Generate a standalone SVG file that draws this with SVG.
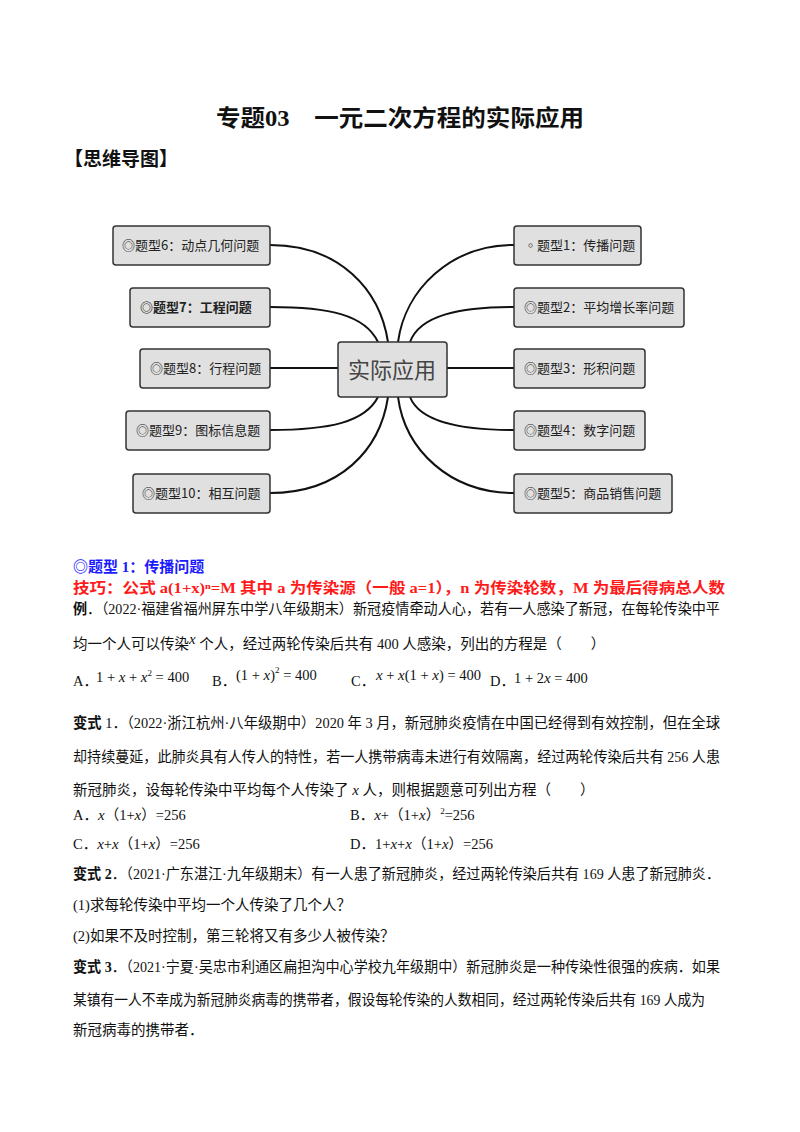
<svg xmlns="http://www.w3.org/2000/svg" width="800" height="1132" viewBox="0 0 800 1132">
<style>
.bx{fill:#e0e0e0;stroke:#333;stroke-width:1.5}
.nt{font-family:"Noto Sans CJK SC",sans-serif;font-size:13px;fill:#222}
.ln{fill:none;stroke:#111;stroke-width:2}
.t{font-family:"Liberation Serif","Noto Sans CJK SC",serif;font-size:14.5px;fill:#111}
.b{font-weight:bold}
.m{font-family:"Liberation Serif",serif;font-style:italic;font-size:15px}
</style>
<rect width="800" height="1132" fill="#fff"/>
<text x="216" y="126" class="t b" style="font-size:23px" textLength="368" lengthAdjust="spacingAndGlyphs">专题03　一元二次方程的实际应用</text>
<text x="64" y="166" class="t b" style="font-size:19px">【思维导图】</text>
<g id="connectors">
<path class="ln" d="M270,245 C340,245 380,290 388,342"/>
<path class="ln" d="M270,307 C330,307 365,315 378,342"/>
<path class="ln" d="M270,368 L338,368"/>
<path class="ln" d="M270,430 C330,430 365,422 378,397"/>
<path class="ln" d="M270,493 C340,493 380,450 388,397"/>
<path class="ln" d="M514,245 C450,245 405,290 398,342"/>
<path class="ln" d="M514,307 C460,307 420,315 410,342"/>
<path class="ln" d="M447,368 L514,368"/>
<path class="ln" d="M514,430 C460,430 420,422 410,397"/>
<path class="ln" d="M514,493 C450,493 405,450 398,397"/>
</g>
<g id="center"><rect class="bx" x="338" y="342" width="109" height="55" rx="3"/><text x="392" y="378" text-anchor="middle" class="nt" style="font-size:22px;fill:#444">实际应用</text></g>
<g id="n6"><rect class="bx" x="113" y="226" width="157" height="39" rx="3"/><text x="122" y="250" class="nt">◎题型6：动点几何问题</text></g>
<g id="n7"><rect class="bx" x="130" y="288" width="140" height="39" rx="3"/><text x="140" y="312" class="nt b">◎题型7：工程问题</text></g>
<g id="n8"><rect class="bx" x="140" y="349" width="130" height="39" rx="3"/><text x="150" y="373" class="nt">◎题型8：行程问题</text></g>
<g id="n9"><rect class="bx" x="126" y="411" width="144" height="39" rx="3"/><text x="136" y="435" class="nt">◎题型9：图标信息题</text></g>
<g id="n10"><rect class="bx" x="133" y="474" width="137" height="39" rx="3"/><text x="142" y="498" class="nt">◎题型10：相互问题</text></g>
<g id="n1"><rect class="bx" x="514" y="226" width="127" height="39" rx="3"/><text x="524" y="250" class="nt">◦题型1：传播问题</text></g>
<g id="n2"><rect class="bx" x="514" y="288" width="170" height="39" rx="3"/><text x="524" y="312" class="nt">◎题型2：平均增长率问题</text></g>
<g id="n3"><rect class="bx" x="514" y="349" width="131" height="39" rx="3"/><text x="524" y="373" class="nt">◎题型3：形积问题</text></g>
<g id="n4"><rect class="bx" x="514" y="411" width="131" height="39" rx="3"/><text x="524" y="435" class="nt">◎题型4：数字问题</text></g>
<g id="n5"><rect class="bx" x="514" y="474" width="158" height="39" rx="3"/><text x="524" y="498" class="nt">◎题型5：商品销售问题</text></g>
<text x="73" y="572" class="t b" style="fill:#1a1aff;font-size:15px">◎题型 1：传播问题</text>
<text x="73" y="593" class="t b" style="fill:#ff1a1a;font-size:15px" textLength="652" lengthAdjust="spacingAndGlyphs">技巧：公式 a(1+x)ⁿ=M 其中 a 为传染源（一般 a=1），n 为传染轮数，M 为最后得病总人数</text>
<text x="73" y="614" class="t" textLength="647" lengthAdjust="spacingAndGlyphs"><tspan class="b">例</tspan>．（2022·福建省福州屏东中学八年级期末）新冠疫情牵动人心，若有一人感染了新冠，在每轮传染中平</text>
<text x="73" y="649" class="t">均一个人可以传染<tspan class="m" dy="-5">x</tspan><tspan dy="5"> 个人，经过两轮传染后共有 400 人感染，列出的方程是（　　）</tspan></text>
<text x="73" y="686" class="t">A．</text><text x="96" y="682" class="t">1 + <tspan class="m">x</tspan> + <tspan class="m">x</tspan><tspan dy="-6" font-size="9">2</tspan><tspan dy="6"> = 400</tspan></text>
<text x="212" y="686" class="t">B．</text><text x="236" y="680" class="t">(1 + <tspan class="m">x</tspan>)<tspan dy="-7" font-size="9">2</tspan><tspan dy="7"> = 400</tspan></text>
<text x="351" y="686" class="t">C．</text><text x="376" y="680" class="t"><tspan class="m">x</tspan> + <tspan class="m">x</tspan>(1 + <tspan class="m">x</tspan>) = 400</text>
<text x="490" y="686" class="t">D．</text><text x="514" y="683" class="t">1 + 2<tspan class="m">x</tspan> = 400</text>
<text x="73" y="728" class="t" textLength="647" lengthAdjust="spacingAndGlyphs"><tspan class="b">变式</tspan> 1．（2022·浙江杭州·八年级期中）2020 年 3 月，新冠肺炎疫情在中国已经得到有效控制，但在全球</text>
<text x="73" y="762" class="t" textLength="647" lengthAdjust="spacingAndGlyphs">却持续蔓延，此肺炎具有人传人的特性，若一人携带病毒未进行有效隔离，经过两轮传染后共有 256 人患</text>
<text x="73" y="795" class="t">新冠肺炎，设每轮传染中平均每个人传染了 <tspan class="m">x</tspan> 人，则根据题意可列出方程（　　）</text>
<text x="73" y="820" class="t">A．<tspan class="m">x</tspan>（1+<tspan class="m">x</tspan>）=256</text>
<text x="350" y="820" class="t">B．<tspan class="m">x</tspan>+（1+<tspan class="m">x</tspan>）<tspan dy="-6" font-size="9">2</tspan><tspan dy="6">=256</tspan></text>
<text x="73" y="849" class="t">C．<tspan class="m">x</tspan>+<tspan class="m">x</tspan>（1+<tspan class="m">x</tspan>）=256</text>
<text x="350" y="849" class="t">D．1+<tspan class="m">x</tspan>+<tspan class="m">x</tspan>（1+<tspan class="m">x</tspan>）=256</text>
<text x="73" y="879" class="t" textLength="647" lengthAdjust="spacingAndGlyphs"><tspan class="b">变式 2</tspan>．（2021·广东湛江·九年级期末）有一人患了新冠肺炎，经过两轮传染后共有 169 人患了新冠肺炎．</text>
<text x="73" y="910" class="t">(1)求每轮传染中平均一个人传染了几个人？</text>
<text x="73" y="941" class="t">(2)如果不及时控制，第三轮将又有多少人被传染？</text>
<text x="73" y="972" class="t" textLength="647" lengthAdjust="spacingAndGlyphs"><tspan class="b">变式 3</tspan>．（2021·宁夏·吴忠市利通区扁担沟中心学校九年级期中）新冠肺炎是一种传染性很强的疾病．如果</text>
<text x="73" y="1005" class="t" textLength="632" lengthAdjust="spacingAndGlyphs">某镇有一人不幸成为新冠肺炎病毒的携带者，假设每轮传染的人数相同，经过两轮传染后共有 169 人成为</text>
<text x="73" y="1035" class="t">新冠病毒的携带者．</text>
</svg>
